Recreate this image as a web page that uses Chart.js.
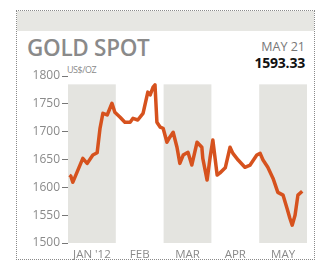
<!DOCTYPE html>
<html>
<head>
<meta charset="utf-8">
<script src="https://cdn.jsdelivr.net/npm/chart.js@4"></script>
<style>
  body { margin: 0; background: #fff; font-family: 'Open Sans', sans-serif; }
  #tarjeta { position: relative; width: 324px; height: 269px; overflow: hidden; }
  .marco { position: absolute; left: 16px; top: 10px; width: 299px; height: 250px; border: 1px dotted #8a8a8a; box-sizing: border-box; }
  .franja { position: absolute; left: 17px; top: 11px; width: 297px; height: 20px; background: #e7e7e3; }
  .titulo { position: absolute; left: 27px; top: 32px; font-size: 22.5px; font-weight: 600; color: #8a8a8a; letter-spacing: -0.3px; }
  .unidad { position: absolute; left: 67px; top: 63px; font-size: 9px; color: #8a8a8a; letter-spacing: -0.5px; }
  .fecha { position: absolute; right: 19px; top: 38px; font-size: 12.5px; color: #777; text-align: right; }
  .valor { position: absolute; right: 19px; top: 53px; font-size: 14px; font-weight: 700; color: #111; text-align: right; letter-spacing: -0.2px; }
  canvas { position: absolute; left: 0; top: 0; }
</style>
</head>
<body>
<div id="tarjeta">
  <div class="marco"></div>
  <div class="franja"></div>
  <div class="titulo">GOLD SPOT</div>
  <div class="unidad">US$/OZ</div>
  <div class="fecha">MAY 21</div>
  <div class="valor">1593.33</div>
  <canvas id="grafico" width="324" height="269"></canvas>
</div>
<script>
// posicion en meses (0 = inicio de enero, 5 = fin de mayo) y precio
const posMes = [0.03, 0.06, 0.1, 0.31, 0.4, 0.52, 0.61, 0.67, 0.73, 0.82, 0.92, 0.98,
  1.09, 1.19, 1.3, 1.36, 1.46, 1.57, 1.67, 1.72, 1.78, 1.82, 1.86, 1.93, 1.99,
  2.07, 2.13, 2.2, 2.28, 2.34, 2.41, 2.51, 2.59, 2.7, 2.8, 2.82, 2.91, 2.97,
  3.03, 3.12, 3.18, 3.29, 3.39, 3.45, 3.56, 3.7, 3.81, 3.95,
  4.02, 4.08, 4.18, 4.29, 4.39, 4.5, 4.58, 4.64, 4.69, 4.75, 4.81, 4.9]
const precios = [1622, 1620, 1609, 1652, 1643, 1658, 1662, 1706, 1733, 1730, 1751, 1735,
  1726, 1717, 1717, 1724, 1721, 1733, 1771, 1766, 1780, 1784, 1717, 1708, 1706,
  1681, 1690, 1699, 1672, 1643, 1658, 1663, 1640, 1681, 1672, 1652, 1613, 1652,
  1685, 1622, 1626, 1635, 1672, 1661, 1649, 1636, 1640, 1658,
  1661, 1649, 1636, 1616, 1591, 1586, 1563, 1545, 1532, 1550, 1586, 1593]
const meses = ["JAN '12", 'FEB', 'MAR', 'APR', 'MAY']
const mesesSombreados = [0, 2, 4]
const ticksY = [1500, 1550, 1600, 1650, 1700, 1750, 1800]
const techoSombra = 1785

const gris = '#8a8a8a'

const sombras = {
    id: 'sombras',
    beforeDatasetsDraw(chart) {
        const { ctx, scales: { x, y } } = chart
        const arriba = y.getPixelForValue(techoSombra)
        const abajo = y.getPixelForValue(ticksY[0])
        ctx.save()
        ctx.fillStyle = '#e4e4e0'
        mesesSombreados.forEach((m) => {
            const x0 = x.getPixelForValue(m)
            const x1 = x.getPixelForValue(m + 1)
            ctx.fillRect(x0, arriba, x1 - x0, abajo - arriba)
        })
        ctx.restore()
    }
}

const datos = posMes.map((p, i) => ({ x: p, y: precios[i] }))

new Chart(document.querySelector('#grafico'), {
    type: 'line',
    data: {
        datasets: [{
            data: datos,
            borderColor: '#d6521e',
            borderWidth: 3.5,
            pointRadius: 0,
            tension: 0,
            borderJoinStyle: 'round'
        }]
    },
    options: {
        responsive: false,
        animation: false,
        layout: { padding: { left: 17, right: 17, top: 76, bottom: 9 } },
        plugins: { legend: { display: false }, tooltip: { enabled: false } },
        scales: {
            x: {
                type: 'linear',
                min: 0,
                max: 5,
                grid: { display: false, drawTicks: false },
                border: { display: false },
                afterBuildTicks: (s) => { s.ticks = meses.map((m, i) => ({ value: i + 0.5 })) },
                afterFit: (s) => { s.height = 17 },
                ticks: {
                    autoSkip: false,
                    maxRotation: 0,
                    padding: 5,
                    color: gris,
                    font: { family: 'Open Sans', size: 11.5 },
                    callback: (v) => meses[Math.floor(v)]
                }
            },
            y: {
                min: 1500,
                max: 1800,
                afterBuildTicks: (s) => { s.ticks = ticksY.map((v) => ({ value: v })) },
                afterFit: (s) => { s.width = 51 },
                grid: { drawOnChartArea: false, tickLength: 6, color: '#777', lineWidth: 1 },
                border: { display: false },
                ticks: {
                    padding: 2,
                    color: gris,
                    font: { family: 'Open Sans', size: 12 },
                    callback: (v) => String(v)
                }
            }
        }
    },
    plugins: [sombras]
})
</script>
</body>
</html>
